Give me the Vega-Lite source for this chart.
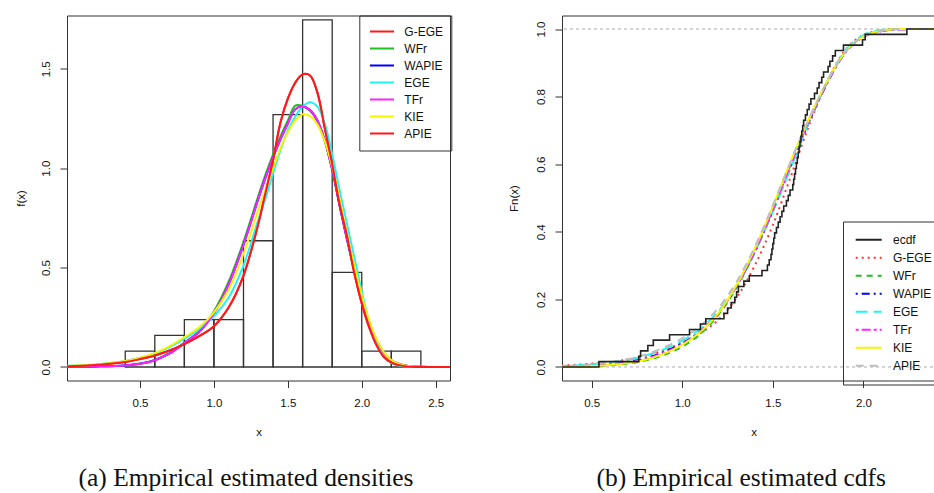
{
  "$schema": "https://vega.github.io/schema/vega-lite/v6.json",
  "background": "white",
  "padding": {"left": 14, "top": 14.5, "right": 0, "bottom": 0},
  "spacing": 54,
  "resolve": {"scale": {"color": "independent", "strokeDash": "independent"}, "legend": {"color": "independent", "strokeDash": "independent"}},
  "config": {
    "font": "Liberation Sans",
    "view": {"stroke": "#333", "strokeWidth": 1},
    "axis": {"domain": false, "grid": false, "ticks": true, "tickSize": 7, "tickColor": "#333", "tickWidth": 1,
      "labelFont": "Liberation Sans", "labelFontSize": 11.5, "labelColor": "#111",
      "titleFont": "Liberation Sans", "titleFontSize": 11.5, "titleFontWeight": "normal", "titleColor": "#111"},
    "axisX": {"labelBaseline": "middle", "labelPadding": 16, "labelAngle": 0, "titleBaseline": "middle", "titleY": 52},
    "axisY": {"labelAngle": -90, "labelAlign": "center", "labelBaseline": "middle", "labelPadding": 14,
      "titleAngle": -90, "titleBaseline": "middle", "titleAlign": "center", "titleY": 182.5},
    "legend": {"symbolType": "stroke", "symbolStrokeWidth": 2, "labelFont": "Liberation Sans", "labelFontSize": 12,
      "labelColor": "#111", "strokeColor": "#333", "rowPadding": 0, "orient": "none", "labelLimit": 100}
  },
  "datasets": {
    "hist": [
      {"lo": 0.4, "hi": 0.6, "density": 0.0794},
      {"lo": 0.6, "hi": 0.8, "density": 0.1587},
      {"lo": 0.8, "hi": 1.0, "density": 0.2381},
      {"lo": 1.0, "hi": 1.2, "density": 0.2381},
      {"lo": 1.2, "hi": 1.4, "density": 0.6349},
      {"lo": 1.4, "hi": 1.6, "density": 1.2698},
      {"lo": 1.6, "hi": 1.8, "density": 1.746},
      {"lo": 1.8, "hi": 2.0, "density": 0.4762},
      {"lo": 2.0, "hi": 2.2, "density": 0.0794},
      {"lo": 2.2, "hi": 2.4, "density": 0.0794}
    ],
    "dens": [
      {"x": 0.0, "G-EGE": 0.004, "WFr": 0.001, "WAPIE": 0.001, "EGE": 0.006, "TFr": 0.001, "KIE": 0.005, "APIE": 0.004},
      {"x": 0.2, "G-EGE": 0.010, "WFr": 0.003, "WAPIE": 0.003, "EGE": 0.013, "TFr": 0.003, "KIE": 0.012, "APIE": 0.010},
      {"x": 0.4, "G-EGE": 0.025, "WFr": 0.008, "WAPIE": 0.008, "EGE": 0.030, "TFr": 0.008, "KIE": 0.030, "APIE": 0.025},
      {"x": 0.5, "G-EGE": 0.040, "WFr": 0.017, "WAPIE": 0.016, "EGE": 0.046, "TFr": 0.016, "KIE": 0.047, "APIE": 0.040},
      {"x": 0.6, "G-EGE": 0.058, "WFr": 0.036, "WAPIE": 0.034, "EGE": 0.068, "TFr": 0.034, "KIE": 0.070, "APIE": 0.058},
      {"x": 0.7, "G-EGE": 0.083, "WFr": 0.070, "WAPIE": 0.068, "EGE": 0.100, "TFr": 0.068, "KIE": 0.105, "APIE": 0.083},
      {"x": 0.8, "G-EGE": 0.115, "WFr": 0.122, "WAPIE": 0.120, "EGE": 0.142, "TFr": 0.120, "KIE": 0.150, "APIE": 0.115},
      {"x": 0.9, "G-EGE": 0.155, "WFr": 0.180, "WAPIE": 0.176, "EGE": 0.190, "TFr": 0.176, "KIE": 0.200, "APIE": 0.155},
      {"x": 1.0, "G-EGE": 0.205, "WFr": 0.280, "WAPIE": 0.270, "EGE": 0.255, "TFr": 0.270, "KIE": 0.275, "APIE": 0.205},
      {"x": 1.1, "G-EGE": 0.300, "WFr": 0.430, "WAPIE": 0.415, "EGE": 0.350, "TFr": 0.415, "KIE": 0.390, "APIE": 0.300},
      {"x": 1.2, "G-EGE": 0.460, "WFr": 0.630, "WAPIE": 0.615, "EGE": 0.510, "TFr": 0.615, "KIE": 0.570, "APIE": 0.460},
      {"x": 1.3, "G-EGE": 0.720, "WFr": 0.860, "WAPIE": 0.845, "EGE": 0.740, "TFr": 0.845, "KIE": 0.790, "APIE": 0.720},
      {"x": 1.35, "G-EGE": 0.880, "WFr": 0.970, "WAPIE": 0.955, "EGE": 0.850, "TFr": 0.955, "KIE": 0.895, "APIE": 0.880},
      {"x": 1.4, "G-EGE": 1.040, "WFr": 1.070, "WAPIE": 1.055, "EGE": 0.975, "TFr": 1.055, "KIE": 1.000, "APIE": 1.040},
      {"x": 1.45, "G-EGE": 1.230, "WFr": 1.160, "WAPIE": 1.145, "EGE": 1.090, "TFr": 1.145, "KIE": 1.100, "APIE": 1.230},
      {"x": 1.5, "G-EGE": 1.350, "WFr": 1.240, "WAPIE": 1.225, "EGE": 1.190, "TFr": 1.225, "KIE": 1.180, "APIE": 1.350},
      {"x": 1.55, "G-EGE": 1.430, "WFr": 1.315, "WAPIE": 1.297, "EGE": 1.260, "TFr": 1.297, "KIE": 1.240, "APIE": 1.430},
      {"x": 1.6, "G-EGE": 1.472, "WFr": 1.313, "WAPIE": 1.310, "EGE": 1.310, "TFr": 1.310, "KIE": 1.271, "APIE": 1.472},
      {"x": 1.65, "G-EGE": 1.466, "WFr": 1.290, "WAPIE": 1.292, "EGE": 1.332, "TFr": 1.292, "KIE": 1.262, "APIE": 1.466},
      {"x": 1.7, "G-EGE": 1.380, "WFr": 1.235, "WAPIE": 1.240, "EGE": 1.310, "TFr": 1.240, "KIE": 1.220, "APIE": 1.380},
      {"x": 1.75, "G-EGE": 1.200, "WFr": 1.135, "WAPIE": 1.140, "EGE": 1.225, "TFr": 1.140, "KIE": 1.135, "APIE": 1.200},
      {"x": 1.8, "G-EGE": 1.020, "WFr": 0.990, "WAPIE": 0.995, "EGE": 1.070, "TFr": 0.995, "KIE": 1.010, "APIE": 1.020},
      {"x": 1.85, "G-EGE": 0.820, "WFr": 0.810, "WAPIE": 0.815, "EGE": 0.890, "TFr": 0.815, "KIE": 0.845, "APIE": 0.820},
      {"x": 1.9, "G-EGE": 0.660, "WFr": 0.640, "WAPIE": 0.645, "EGE": 0.720, "TFr": 0.645, "KIE": 0.670, "APIE": 0.660},
      {"x": 1.95, "G-EGE": 0.470, "WFr": 0.480, "WAPIE": 0.490, "EGE": 0.550, "TFr": 0.490, "KIE": 0.510, "APIE": 0.470},
      {"x": 2.0, "G-EGE": 0.320, "WFr": 0.340, "WAPIE": 0.345, "EGE": 0.380, "TFr": 0.345, "KIE": 0.360, "APIE": 0.320},
      {"x": 2.05, "G-EGE": 0.200, "WFr": 0.220, "WAPIE": 0.225, "EGE": 0.230, "TFr": 0.225, "KIE": 0.235, "APIE": 0.200},
      {"x": 2.1, "G-EGE": 0.110, "WFr": 0.130, "WAPIE": 0.135, "EGE": 0.120, "TFr": 0.135, "KIE": 0.140, "APIE": 0.110},
      {"x": 2.15, "G-EGE": 0.050, "WFr": 0.070, "WAPIE": 0.072, "EGE": 0.055, "TFr": 0.072, "KIE": 0.075, "APIE": 0.050},
      {"x": 2.2, "G-EGE": 0.022, "WFr": 0.033, "WAPIE": 0.034, "EGE": 0.020, "TFr": 0.034, "KIE": 0.035, "APIE": 0.022},
      {"x": 2.3, "G-EGE": 0.003, "WFr": 0.006, "WAPIE": 0.006, "EGE": 0.002, "TFr": 0.006, "KIE": 0.006, "APIE": 0.003},
      {"x": 2.4, "G-EGE": 0.000, "WFr": 0.001, "WAPIE": 0.001, "EGE": 0.000, "TFr": 0.001, "KIE": 0.001, "APIE": 0.000},
      {"x": 2.6, "G-EGE": 0.000, "WFr": 0.000, "WAPIE": 0.000, "EGE": 0.000, "TFr": 0.000, "KIE": 0.000, "APIE": 0.000}
    ],
    "ecdf": [
      {"x": 0.3, "ecdf": 0}, {"x": 0.54, "ecdf": 0.0159}, {"x": 0.76, "ecdf": 0.0317}, {"x": 0.77, "ecdf": 0.0476},
      {"x": 0.81, "ecdf": 0.0635}, {"x": 0.84, "ecdf": 0.0794}, {"x": 0.93, "ecdf": 0.0952}, {"x": 1.04, "ecdf": 0.1111},
      {"x": 1.1, "ecdf": 0.127}, {"x": 1.13, "ecdf": 0.1429}, {"x": 1.23, "ecdf": 0.1587}, {"x": 1.25, "ecdf": 0.1746},
      {"x": 1.27, "ecdf": 0.1905}, {"x": 1.29, "ecdf": 0.2063}, {"x": 1.3, "ecdf": 0.2222}, {"x": 1.31, "ecdf": 0.2381},
      {"x": 1.34, "ecdf": 0.254}, {"x": 1.37, "ecdf": 0.2698}, {"x": 1.44, "ecdf": 0.2857}, {"x": 1.47, "ecdf": 0.3016},
      {"x": 1.48, "ecdf": 0.3175}, {"x": 1.49, "ecdf": 0.3333}, {"x": 1.495, "ecdf": 0.3492}, {"x": 1.5, "ecdf": 0.3651},
      {"x": 1.505, "ecdf": 0.381}, {"x": 1.51, "ecdf": 0.3968}, {"x": 1.52, "ecdf": 0.4127}, {"x": 1.53, "ecdf": 0.4286},
      {"x": 1.54, "ecdf": 0.4444}, {"x": 1.55, "ecdf": 0.4603}, {"x": 1.56, "ecdf": 0.4762}, {"x": 1.575, "ecdf": 0.4921},
      {"x": 1.585, "ecdf": 0.5079}, {"x": 1.595, "ecdf": 0.5238}, {"x": 1.61, "ecdf": 0.5397}, {"x": 1.615, "ecdf": 0.5556},
      {"x": 1.62, "ecdf": 0.5714}, {"x": 1.625, "ecdf": 0.5873}, {"x": 1.63, "ecdf": 0.6032}, {"x": 1.635, "ecdf": 0.619},
      {"x": 1.64, "ecdf": 0.6349}, {"x": 1.645, "ecdf": 0.6508}, {"x": 1.65, "ecdf": 0.6667}, {"x": 1.655, "ecdf": 0.6825},
      {"x": 1.66, "ecdf": 0.6984}, {"x": 1.665, "ecdf": 0.7143}, {"x": 1.67, "ecdf": 0.7302}, {"x": 1.68, "ecdf": 0.746},
      {"x": 1.69, "ecdf": 0.7619}, {"x": 1.7, "ecdf": 0.7778}, {"x": 1.71, "ecdf": 0.7937}, {"x": 1.73, "ecdf": 0.8095},
      {"x": 1.745, "ecdf": 0.8254}, {"x": 1.755, "ecdf": 0.8413}, {"x": 1.77, "ecdf": 0.8571}, {"x": 1.78, "ecdf": 0.873},
      {"x": 1.805, "ecdf": 0.8889}, {"x": 1.815, "ecdf": 0.9048}, {"x": 1.83, "ecdf": 0.9206}, {"x": 1.845, "ecdf": 0.9365},
      {"x": 1.89, "ecdf": 0.9524}, {"x": 1.995, "ecdf": 0.9683}, {"x": 2.01, "ecdf": 0.9841}, {"x": 2.24, "ecdf": 1.0},
      {"x": 2.5, "ecdf": 1.0}
    ],
    "cdfs": [
      {"x": 0.3, "G-EGE": 0.004, "WFr": 0.000, "WAPIE": 0.001, "EGE": 0.003, "TFr": 0.001, "KIE": 0.001, "APIE": 0.003},
      {"x": 0.4, "G-EGE": 0.006, "WFr": 0.001, "WAPIE": 0.002, "EGE": 0.004, "TFr": 0.001, "KIE": 0.001, "APIE": 0.004},
      {"x": 0.5, "G-EGE": 0.010, "WFr": 0.002, "WAPIE": 0.004, "EGE": 0.008, "TFr": 0.003, "KIE": 0.003, "APIE": 0.008},
      {"x": 0.6, "G-EGE": 0.015, "WFr": 0.005, "WAPIE": 0.008, "EGE": 0.013, "TFr": 0.007, "KIE": 0.006, "APIE": 0.014},
      {"x": 0.7, "G-EGE": 0.022, "WFr": 0.010, "WAPIE": 0.015, "EGE": 0.021, "TFr": 0.013, "KIE": 0.012, "APIE": 0.023},
      {"x": 0.8, "G-EGE": 0.033, "WFr": 0.020, "WAPIE": 0.026, "EGE": 0.034, "TFr": 0.024, "KIE": 0.022, "APIE": 0.037},
      {"x": 0.9, "G-EGE": 0.050, "WFr": 0.036, "WAPIE": 0.045, "EGE": 0.053, "TFr": 0.042, "KIE": 0.040, "APIE": 0.058},
      {"x": 1.0, "G-EGE": 0.072, "WFr": 0.060, "WAPIE": 0.070, "EGE": 0.078, "TFr": 0.068, "KIE": 0.066, "APIE": 0.085},
      {"x": 1.1, "G-EGE": 0.100, "WFr": 0.098, "WAPIE": 0.106, "EGE": 0.113, "TFr": 0.105, "KIE": 0.104, "APIE": 0.122},
      {"x": 1.2, "G-EGE": 0.140, "WFr": 0.155, "WAPIE": 0.160, "EGE": 0.165, "TFr": 0.160, "KIE": 0.160, "APIE": 0.175},
      {"x": 1.3, "G-EGE": 0.205, "WFr": 0.235, "WAPIE": 0.240, "EGE": 0.240, "TFr": 0.240, "KIE": 0.243, "APIE": 0.252},
      {"x": 1.4, "G-EGE": 0.300, "WFr": 0.340, "WAPIE": 0.340, "EGE": 0.340, "TFr": 0.342, "KIE": 0.350, "APIE": 0.355},
      {"x": 1.5, "G-EGE": 0.420, "WFr": 0.465, "WAPIE": 0.462, "EGE": 0.460, "TFr": 0.465, "KIE": 0.475, "APIE": 0.478},
      {"x": 1.6, "G-EGE": 0.565, "WFr": 0.600, "WAPIE": 0.595, "EGE": 0.590, "TFr": 0.600, "KIE": 0.610, "APIE": 0.610},
      {"x": 1.7, "G-EGE": 0.715, "WFr": 0.730, "WAPIE": 0.725, "EGE": 0.725, "TFr": 0.730, "KIE": 0.735, "APIE": 0.735},
      {"x": 1.8, "G-EGE": 0.845, "WFr": 0.842, "WAPIE": 0.840, "EGE": 0.845, "TFr": 0.842, "KIE": 0.845, "APIE": 0.845},
      {"x": 1.9, "G-EGE": 0.938, "WFr": 0.932, "WAPIE": 0.930, "EGE": 0.936, "TFr": 0.931, "KIE": 0.932, "APIE": 0.932},
      {"x": 2.0, "G-EGE": 0.982, "WFr": 0.978, "WAPIE": 0.977, "EGE": 0.982, "TFr": 0.977, "KIE": 0.978, "APIE": 0.978},
      {"x": 2.1, "G-EGE": 0.996, "WFr": 0.995, "WAPIE": 0.994, "EGE": 0.997, "TFr": 0.994, "KIE": 0.995, "APIE": 0.995},
      {"x": 2.2, "G-EGE": 1.000, "WFr": 1.000, "WAPIE": 0.999, "EGE": 1.000, "TFr": 0.999, "KIE": 1.000, "APIE": 1.000},
      {"x": 2.3, "G-EGE": 1.000, "WFr": 1.000, "WAPIE": 1.000, "EGE": 1.000, "TFr": 1.000, "KIE": 1.000, "APIE": 1.000},
      {"x": 2.5, "G-EGE": 1.000, "WFr": 1.000, "WAPIE": 1.000, "EGE": 1.000, "TFr": 1.000, "KIE": 1.000, "APIE": 1.000}
    ],
    "hlines": [{"h": 0}, {"h": 1}]
  },
  "hconcat": [
    {
      "width": 383,
      "height": 365,
      "title": {"text": "(a) Empirical estimated densities", "orient": "bottom", "anchor": "middle", "frame": "group",
        "dx": -12.5, "offset": 28, "font": "Liberation Serif", "fontSize": 25.5, "fontWeight": "normal", "color": "#111"},
      "layer": [
        {
          "data": {"name": "hist"},
          "mark": {"type": "rect", "fill": "transparent", "stroke": "#333", "strokeWidth": 1.3},
          "encoding": {
            "x": {"field": "lo", "type": "quantitative", "title": "x",
              "scale": {"domain": [0.006, 2.597], "nice": false, "zero": false},
              "axis": {"values": [0.5, 1.0, 1.5, 2.0, 2.5], "format": ".1f"}},
            "x2": {"field": "hi"},
            "y": {"field": "density", "type": "quantitative", "title": "f(x)",
              "scale": {"domain": [-0.068, 1.768], "nice": false, "zero": false},
              "axis": {"values": [0, 0.5, 1.0, 1.5], "format": ".1f", "titleX": -46}},
            "y2": {"datum": 0}
          }
        },
        {
          "data": {"name": "dens"},
          "transform": [{"fold": ["G-EGE", "WFr", "WAPIE", "EGE", "TFr", "KIE", "APIE"], "as": ["key", "value"]}],
          "mark": {"type": "line", "interpolate": "catmull-rom", "strokeWidth": 2, "clip": true},
          "encoding": {
            "x": {"field": "x", "type": "quantitative", "title": "x"},
            "y": {"field": "value", "type": "quantitative", "title": "f(x)"},
            "color": {"field": "key", "type": "nominal",
              "scale": {"domain": ["G-EGE", "WFr", "WAPIE", "EGE", "TFr", "KIE", "APIE"],
                "range": ["#FF1A1A", "#20C020", "#0000FF", "#22F2F2", "#FF22FF", "#F5F500", "#FF1A1A"]},
              "legend": {"title": null, "orient": "none", "legendX": 292.3, "legendY": 0, "padding": 8,
                "symbolOffset": 1.7, "symbolSize": 576, "clipHeight": 16.2, "labelOffset": 9.3}}
          }
        }
      ]
    },
    {
      "width": 383,
      "height": 365,
      "title": {"text": "(b) Empirical estimated cdfs", "orient": "bottom", "anchor": "middle", "frame": "group",
        "dx": -12.3, "offset": 28, "font": "Liberation Serif", "fontSize": 25.5, "fontWeight": "normal", "color": "#111"},
      "layer": [
        {
          "data": {"name": "hlines"},
          "mark": {"type": "rule", "color": "#AAAAAA", "strokeDash": [3, 3], "strokeWidth": 1},
          "encoding": {
            "y": {"field": "h", "type": "quantitative", "title": "Fn(x)",
              "scale": {"domain": [-0.04, 1.04], "nice": false, "zero": false},
              "axis": {"values": [0, 0.2, 0.4, 0.6, 0.8, 1.0], "format": ".1f", "titleX": -48}}
          }
        },
        {
          "data": {"name": "cdfs"},
          "transform": [{"fold": ["G-EGE", "WFr", "WAPIE", "EGE", "TFr", "KIE", "APIE"], "as": ["key", "value"]}],
          "mark": {"type": "line", "interpolate": "monotone", "strokeWidth": 2, "clip": true},
          "encoding": {
            "x": {"field": "x", "type": "quantitative", "title": "x",
              "scale": {"domain": [0.336, 2.4505], "nice": false, "zero": false},
              "axis": {"values": [0.5, 1.0, 1.5, 2.0, 2.5], "format": ".1f"}},
            "y": {"field": "value", "type": "quantitative", "title": "Fn(x)"},
            "color": {"field": "key", "type": "nominal",
              "scale": {"domain": ["ecdf", "G-EGE", "WFr", "WAPIE", "EGE", "TFr", "KIE", "APIE"],
                "range": ["#222222", "#FF3030", "#20C020", "#0000FF", "#22F2F2", "#FF22FF", "#F5F500", "#BEBEBE"]},
              "legend": {"title": null, "orient": "none", "legendX": 281, "legendY": 206, "padding": 9.5,
                "symbolOffset": 2.2, "symbolSize": 676, "clipHeight": 17.6, "labelOffset": 10.3}},
            "strokeDash": {"field": "key", "type": "nominal",
              "scale": {"domain": ["ecdf", "G-EGE", "WFr", "WAPIE", "EGE", "TFr", "KIE", "APIE"],
                "range": [[1, 0], [2, 4], [6, 5], [2, 4, 8, 4], [12, 6], [3, 3, 9, 3], [1, 0], [8, 6]]},
              "legend": {"title": null, "orient": "none", "legendX": 281, "legendY": 206, "padding": 9.5,
                "symbolOffset": 2.2, "symbolSize": 676, "clipHeight": 17.6, "labelOffset": 10.3}}
          }
        },
        {
          "data": {"name": "ecdf"},
          "transform": [{"fold": ["ecdf"], "as": ["key", "value"]}],
          "mark": {"type": "line", "interpolate": "step-after", "strokeWidth": 1.6, "clip": true},
          "encoding": {
            "x": {"field": "x", "type": "quantitative", "title": "x"},
            "y": {"field": "value", "type": "quantitative", "title": "Fn(x)"},
            "color": {"field": "key", "type": "nominal"},
            "strokeDash": {"field": "key", "type": "nominal"}
          }
        }
      ]
    }
  ]
}
